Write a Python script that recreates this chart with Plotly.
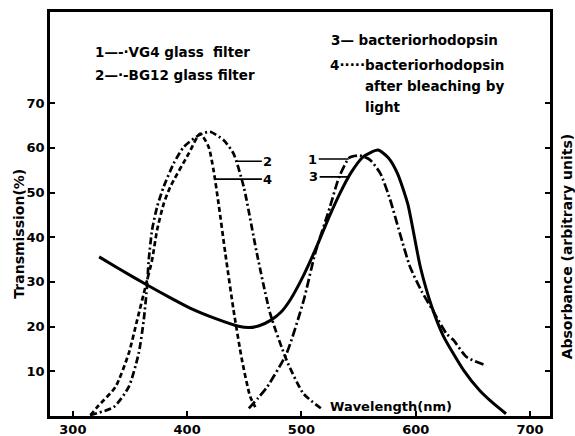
import plotly.graph_objects as go

# ---- data ----
# curve 1: VG4 glass filter (dash-dot)
vg4_x = [454, 462, 470, 487, 502, 512, 525, 533, 542, 551, 560, 569, 577.5, 586, 595, 605, 615, 627, 633, 644.5, 662]
vg4_y = [1.7, 4.0, 6.5, 14.0, 25.9, 36.4, 46.8, 53.5, 57.8, 58.3, 57.3, 54.3, 48.5, 41.0, 33.4, 28.0, 23.6, 18.4, 17.0, 13.2, 11.3]

# curve 2: BG12 glass filter (dash-dot, broad)
bg12_x = [315, 335.8, 348.9, 357.6, 362, 365, 366.4, 369.3, 373.7, 379.5, 388.2, 397, 410, 420, 432, 440.6, 449.5, 461, 472.7, 487, 501.8, 519.2]
bg12_y = [0.2, 2.0, 6.5, 14.0, 21.4, 29.3, 34.9, 41.6, 46.8, 51.3, 56.5, 60.2, 62.8, 63.6, 61.7, 58.7, 51.3, 36.4, 22.9, 12.5, 5.0, 1.3]

# curve 3: bacteriorhodopsin (solid)
br_x = [323, 340, 365, 385, 403, 425, 445, 454, 463, 473, 482, 490, 500, 512, 525, 534, 543, 554, 567, 576, 584, 593, 604, 614, 624, 642, 656, 668, 679]
br_y = [35.6, 33.0, 29.3, 26.5, 24.1, 21.8, 20.1, 19.8, 20.2, 21.4, 23.2, 25.9, 30.5, 37.1, 45.0, 50.0, 54.3, 58.0, 59.5, 57.8, 54.3, 47.5, 33.4, 24.5, 18.0, 10.2, 5.7, 2.8, 0.5]

# curve 4: bacteriorhodopsin after bleaching by light (dashed)
bl_x = [315.5, 321.3, 337.3, 348.9, 356.2, 363.5, 369.3, 373.7, 379.5, 385.3, 401.3, 411.4, 418.8, 423.1, 427.5, 433.4, 440.6, 448, 455.2, 459.6]
bl_y = [0.2, 2.0, 6.5, 14.0, 21.4, 28.9, 34.9, 41.6, 47.5, 51.3, 58.7, 63.2, 60.2, 55.0, 47.5, 36.4, 23.7, 12.5, 4.3, 2.0]

x_ticks = [300, 400, 500, 600, 700]
y_ticks = [10, 20, 30, 40, 50, 60, 70]

FONT = "DejaVu Sans"
fig = go.Figure()

def add(x, y, dash, width):
    fig.add_trace(go.Scatter(x=x, y=y, mode="lines",
                             line=dict(color="black", width=width, dash=dash, shape="spline", smoothing=0.6),
                             showlegend=False, hoverinfo="skip"))

add(vg4_x, vg4_y, "9px,3px,2px,3px", 2.7)
add(bg12_x, bg12_y, "7px,3px,2px,3px", 2.7)
add(br_x, br_y, "solid", 3)
add(bl_x, bl_y, "5px,3px", 2.7)

ann = []
def txt(x, y, s, size=13.5, xanchor="left"):
    ann.append(dict(x=x, y=y, xref="x", yref="y", text="<b>" + s + "</b>", showarrow=False,
                    xanchor=xanchor, yanchor="middle", font=dict(family=FONT, size=size, color="black")))

txt(318, 81.5, "1—-·VG4 glass  filter")
txt(318, 76.3, "2—·-BG12 glass filter")
txt(524, 84.1, "3— bacteriorhodopsin")
txt(523.3, 78.5, "4·····bacteriorhodopsin")
txt(553.9, 73.8, "after bleaching by")
txt(553.9, 69.1, "light")
txt(523, 2.2, "Wavelength(nm)", size=13)

def lead(x, y, s, ax):
    ann.append(dict(x=x, y=y, xref="x", yref="y", text="<b>" + s + "</b>", showarrow=True,
                    arrowhead=0, arrowwidth=1.6, arrowcolor="black", ax=ax, ay=0,
                    font=dict(family=FONT, size=13, color="black")))

lead(442.6, 57.0, "2", 32)
lead(424.3, 53.0, "4", 53)
lead(541.4, 57.5, "1", -36)
lead(541.3, 53.5, "3", -35)

ann.append(dict(x=-0.061, y=0.45, xref="paper", yref="paper", text="<b>Transmission(%)</b>",
                showarrow=False, textangle=-90, xanchor="center", yanchor="middle",
                font=dict(family=FONT, size=14, color="black")))
ann.append(dict(x=1.034, y=0.42, xref="paper", yref="paper", text="<b>Absorbance (arbitrary units)</b>",
                showarrow=False, textangle=-90, xanchor="center", yanchor="middle",
                font=dict(family=FONT, size=14, color="black")))

fig.update_layout(
    width=575, height=436,
    margin=dict(l=50, r=25, t=12, b=20),
    paper_bgcolor="white", plot_bgcolor="white",
    annotations=ann,
    xaxis=dict(range=[280, 717.5], tickvals=x_ticks, ticks="inside", ticklen=5, tickwidth=2,
               tickcolor="black", showline=True, linewidth=2.5, linecolor="black", mirror=True,
               showgrid=False, zeroline=False, automargin=False,
               tickfont=dict(family=FONT, size=13, color="black", weight="bold")),
    yaxis=dict(range=[0, 90.4], tickvals=y_ticks, ticks="inside", ticklen=5, tickwidth=2,
               tickcolor="black", showline=True, linewidth=2.5, linecolor="black", mirror="ticks",
               showgrid=False, zeroline=False, automargin=False,
               tickfont=dict(family=FONT, size=13, color="black", weight="bold")),
)

fig.write_html("out.html", config={"displayModeBar": False},
               post_script="document.body.style.margin='0';document.body.style.overflow='hidden';")
